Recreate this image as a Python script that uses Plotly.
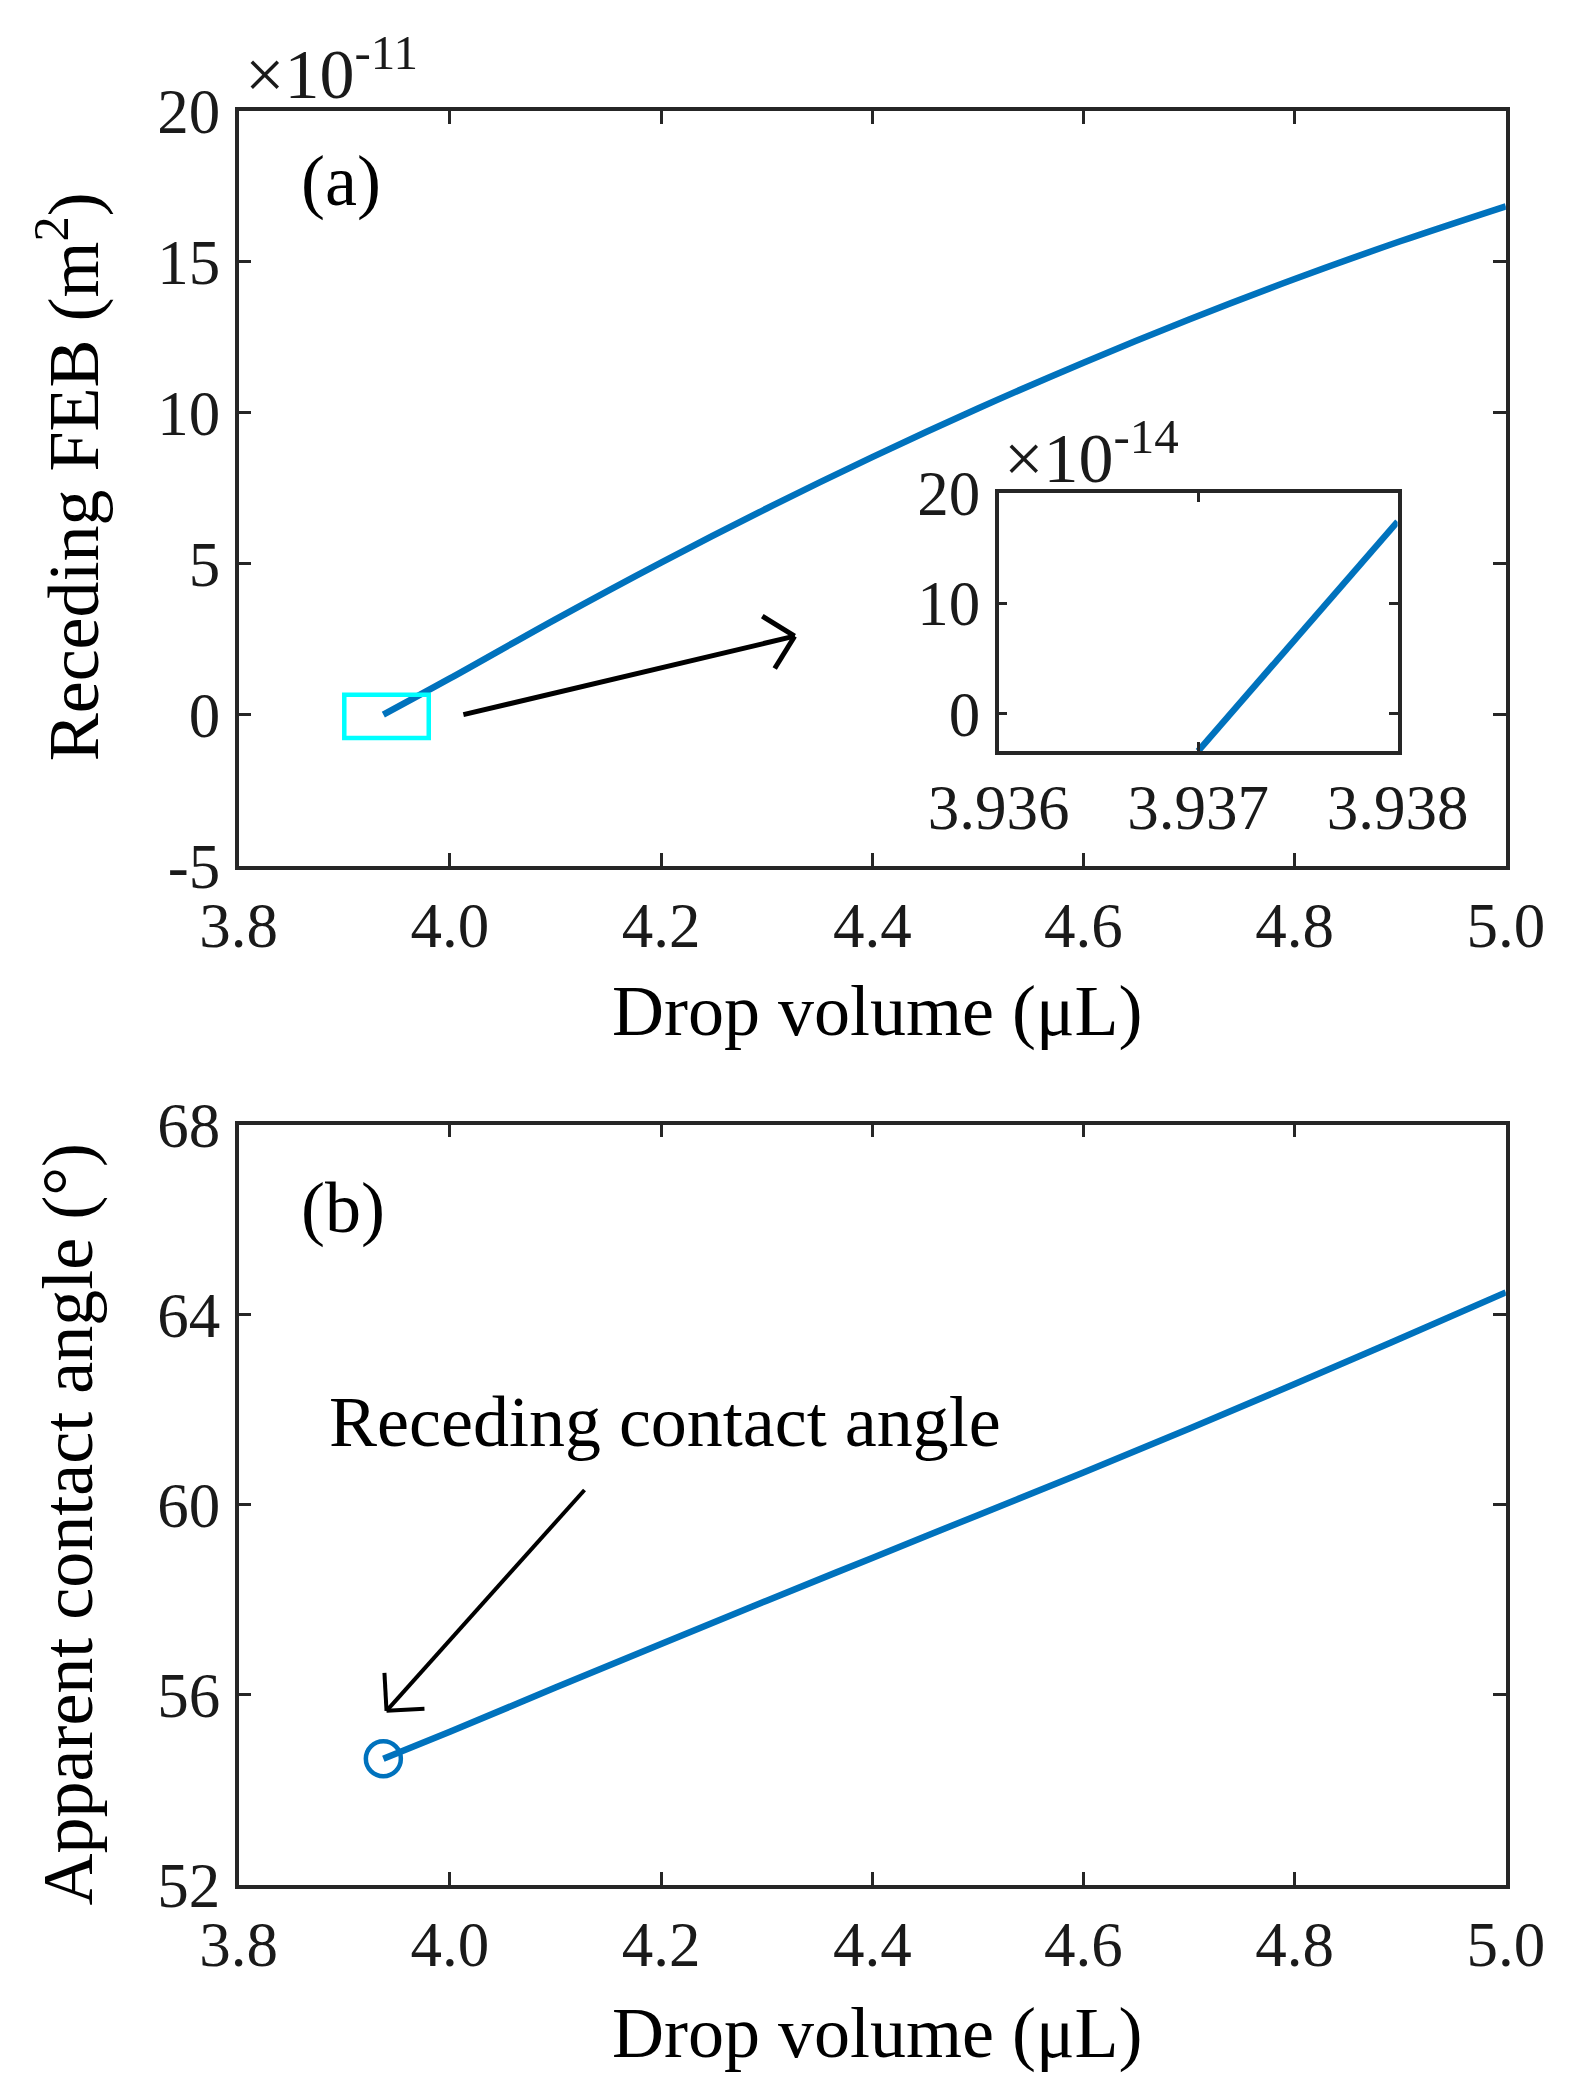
import math
import plotly.graph_objects as go

# panel (a): receding FEB, in units of 1e-11 m^2
vol_a = [3.937, 4.0, 4.1, 4.2, 4.3, 4.4, 4.5, 4.6, 4.7, 4.8, 4.9, 5.0]
feb_a = [0.0, 1.2, 3.16, 5.04, 6.83, 8.53, 10.14, 11.66, 13.09, 14.43, 15.68, 16.84]

# inset: zoom near the zero crossing, units of 1e-14 m^2
vol_in = [3.937, 3.938]
feb_in = [-3.4, 17.4]

# panel (b): apparent contact angle (deg)
vol_b = [3.937, 4.0, 4.1, 4.2, 4.3, 4.4, 4.5, 4.6, 4.7, 4.8, 4.9, 5.0]
ang_b = [54.65, 55.22, 56.15, 57.07, 57.98, 58.88, 59.78, 60.68, 61.6, 62.54, 63.5, 64.47]

x_ticks = [3.8, 4.0, 4.2, 4.4, 4.6, 4.8, 5.0]
ya_ticks = [-5, 0, 5, 10, 15, 20]
ya_text = ['-5', '0', '5', '10', '15', '20']
yb_ticks = [52, 56, 60, 64, 68]
xin_ticks = [3.936, 3.937, 3.938]
yin_ticks = [0, 10, 20]

BLUE = '#0072BD'
AX = '#262626'
FONT = 'Liberation Serif'
W, H = 1580, 2099

dom_x = [0.146, 0.948]
dom_ya = [0.5914, 0.951]
dom_yb = [0.1059, 0.468]

fig = go.Figure()
fig.add_trace(go.Scatter(x=vol_a, y=feb_a, mode='lines', line=dict(color=BLUE, width=6.5, shape='spline'),
                         xaxis='x', yaxis='y'))
fig.add_trace(go.Scatter(x=vol_b, y=ang_b, mode='lines', line=dict(color=BLUE, width=6.5, shape='spline'),
                         xaxis='x2', yaxis='y2'))
fig.add_trace(go.Scatter(x=vol_b[:1], y=ang_b[:1], mode='markers',
                         marker=dict(symbol='circle-open', size=35, color=BLUE, line=dict(width=4.5, color=BLUE)),
                         xaxis='x2', yaxis='y2'))
fig.add_trace(go.Scatter(x=vol_in, y=feb_in, mode='lines', line=dict(color=BLUE, width=6.5),
                         xaxis='x3', yaxis='y3'))

ax_common = dict(showline=True, linewidth=3.5, linecolor=AX, mirror='ticks', ticks='inside',
                 tickwidth=3, tickcolor=AX, showgrid=False, zeroline=False, automargin=False,
                 tickfont=dict(family=FONT, size=63, color='#1a1a1a'))

fig.update_layout(
    template='none',
    width=W, height=H, autosize=False, showlegend=False,
    margin=dict(l=0, r=0, t=0, b=0, pad=0),
    paper_bgcolor='white', plot_bgcolor='white',
    xaxis=dict(ax_common, domain=dom_x, anchor='y', range=[3.8, 5.0], tickvals=x_ticks,
               tickformat='.1f', ticklen=13, ticklabelstandoff=2),
    yaxis=dict(ax_common, domain=dom_ya, anchor='x', range=[-5, 20], tickvals=ya_ticks,
               ticktext=ya_text, ticklen=13, ticklabelstandoff=2),
    xaxis2=dict(ax_common, domain=dom_x, anchor='y2', range=[3.8, 5.0], tickvals=x_ticks,
                tickformat='.1f', ticklen=13, ticklabelstandoff=2),
    yaxis2=dict(ax_common, domain=dom_yb, anchor='x2', range=[52, 68], tickvals=yb_ticks,
                ticklen=13, ticklabelstandoff=2),
    xaxis3=dict(ax_common, domain=[0.627, 0.8795], anchor='y3', range=[3.936, 3.938], tickvals=xin_ticks,
                tickformat='.3f', ticklen=9, ticklabelstandoff=-1),
    yaxis3=dict(ax_common, domain=[0.646, 0.769], anchor='x3', range=[-3.4, 20], tickvals=yin_ticks,
                ticklen=9, ticklabelstandoff=2),
)

# cyan box marking the zoomed region
fig.add_shape(type='rect', xref='x', yref='y', x0=3.90, x1=3.98, y0=-0.77, y1=0.66,
              line=dict(color='#00FFFF', width=4.5))


def add_arrow(xr, yr, tail, tip, xspan, yspan, ydom, width, head=38):
    # open V-shaped arrow head, arms at +-45 deg, drawn as plain line shapes
    sx = (dom_x[1] - dom_x[0]) * W / xspan
    sy = (ydom[1] - ydom[0]) * H / yspan
    dx = (tip[0] - tail[0]) * sx
    dy = (tip[1] - tail[1]) * sy
    n = math.hypot(dx, dy)
    ux, uy = -dx / n, -dy / n
    line = dict(color='#000000', width=width)
    fig.add_shape(type='line', xref=xr, yref=yr, x0=tail[0], y0=tail[1], x1=tip[0], y1=tip[1], line=line)
    for a in (math.pi / 4, -math.pi / 4):
        rx = ux * math.cos(a) - uy * math.sin(a)
        ry = ux * math.sin(a) + uy * math.cos(a)
        fig.add_shape(type='line', xref=xr, yref=yr, x0=tip[0], y0=tip[1],
                      x1=tip[0] + head * rx / sx, y1=tip[1] + head * ry / sy, line=line)


add_arrow('x', 'y', (4.0128, 0.0), (4.3265, 2.6), 1.2, 25, dom_ya, 5)
add_arrow('x2', 'y2', (4.1275, 60.31), (3.940, 55.66), 1.2, 16, dom_yb, 4)

title_font = dict(family=FONT, size=72, color='#000000')
ann = [
    dict(text='Drop volume (μL)', x=0.5497, y=0.5222, xref='paper', yref='paper',
         xanchor='center', yanchor='middle', showarrow=False, font=title_font),
    dict(text='Drop volume (μL)', x=0.5497, y=0.0352, xref='paper', yref='paper',
         xanchor='center', yanchor='middle', showarrow=False, font=title_font),
    dict(text='Receding FEB (m<sup>2</sup>)', x=0.0381, y=0.7765, xref='paper', yref='paper',
         textangle=-90, xanchor='center', yanchor='middle', showarrow=False, font=title_font),
    dict(text='Apparent contact angle (°)', x=0.0381, y=0.2776, xref='paper', yref='paper',
         textangle=-90, xanchor='center', yanchor='middle', showarrow=False, font=title_font),
    dict(text='(a)', x=0.184, y=0.9174, xref='paper', yref='paper',
         xanchor='left', yanchor='middle', showarrow=False, font=title_font),
    dict(text='(b)', x=0.184, y=0.4282, xref='paper', yref='paper',
         xanchor='left', yanchor='middle', showarrow=False, font=title_font),
    dict(text='×10<sup>-11</sup>', x=0.149, y=0.9492, xref='paper', yref='paper',
         xanchor='left', yanchor='bottom', showarrow=False, font=dict(family=FONT, size=70, color='#1a1a1a')),
    dict(text='×10<sup>-14</sup>', x=0.6288, y=0.766, xref='paper', yref='paper',
         xanchor='left', yanchor='bottom', showarrow=False, font=dict(family=FONT, size=70, color='#1a1a1a')),
    dict(text='Receding contact angle', x=4.204, y=61.74, xref='x2', yref='y2',
         xanchor='center', yanchor='middle', showarrow=False, font=title_font),
]
fig.update_layout(annotations=ann)

fig.write_html("out.html")
